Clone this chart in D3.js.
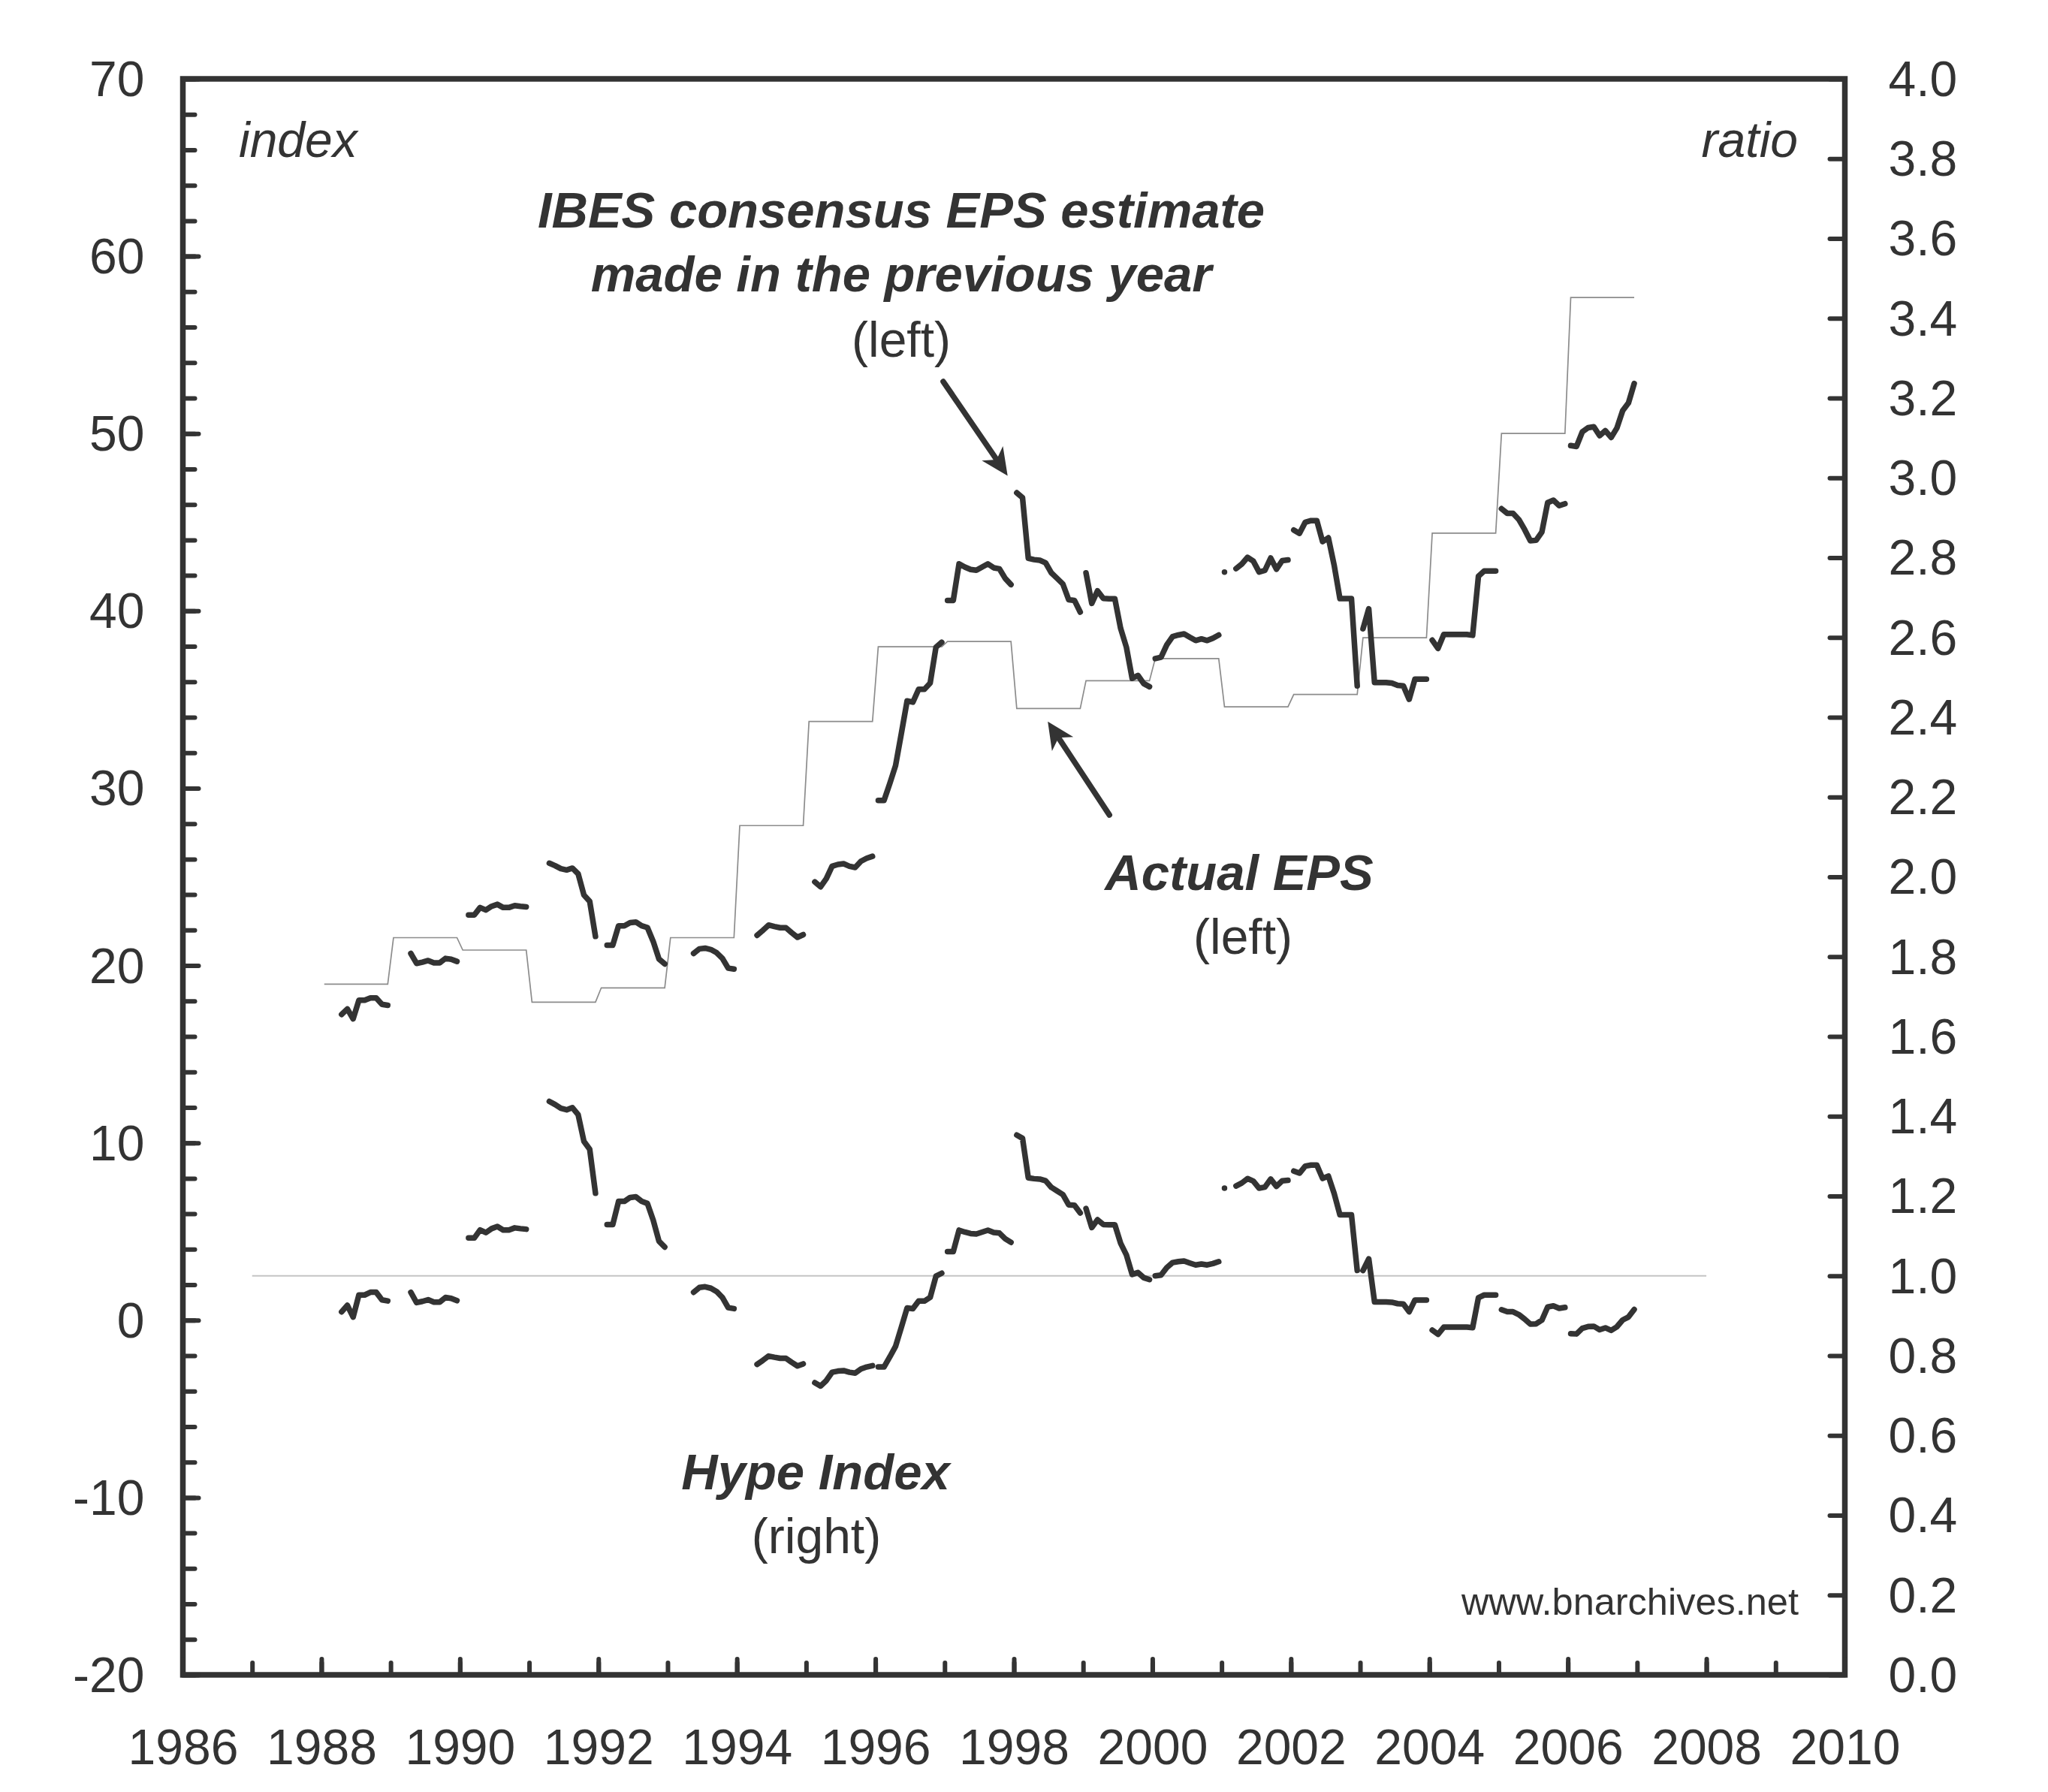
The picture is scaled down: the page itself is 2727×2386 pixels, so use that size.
<!DOCTYPE html>
<html><head><meta charset="utf-8">
<script src="https://cdn.jsdelivr.net/npm/d3@7"></script>
<style>
html,body{margin:0;padding:0;background:#fff;}
text{font-family:"Liberation Sans",Arial,Helvetica,sans-serif;fill:#333;}
</style>
</head><body>
<svg id="chart" width="2727" height="2386"></svg>
<script>
// ---------------- DATA ----------------
const years = [1988,1989,1990,1991,1992,1993,1994,1995,1996,1997,1998,1999,2000,2001,2002,2003,2004,2005,2006];

// Actual EPS (left axis), one value per year, repeated monthly in the chart
const actualEPS = [18.95,21.57,20.87,17.93,18.74,21.57,27.89,33.76,37.98,38.27,34.49,36.06,37.31,34.59,35.29,38.48,44.38,50.00,57.67];

// IBES consensus EPS estimate made in the previous year (left axis), monthly Jan..Dec
const consensusEstimate = [
  [null,null,null,17.24,17.55,16.99,18.04,18.04,18.17,18.17,17.81,17.76], // 1988
  [null,null,null,20.68,20.12,20.19,20.28,20.15,20.15,20.40,20.35,20.23], // 1989
  [null,22.85,22.85,23.27,23.13,23.34,23.45,23.27,23.27,23.38,23.34,23.31], // 1990
  [null,null,null,25.77,25.63,25.46,25.39,25.49,25.17,23.97,23.62,21.64], // 1991
  [null,21.15,21.15,22.24,22.24,22.42,22.45,22.24,22.14,21.36,20.37,20.09], // 1992
  [null,null,null,null,20.68,20.94,20.98,20.90,20.72,20.40,19.85,19.80], // 1993
  [null,null,null,21.70,21.98,22.28,22.20,22.13,22.13,21.85,21.59,21.74], // 1994
  [null,24.72,24.44,24.90,25.60,25.70,25.74,25.60,25.53,25.88,26.05,26.16], // 1995
  [29.31,29.31,30.26,31.27,33.08,34.92,34.85,35.58,35.58,35.93,37.95,38.23], // 1996
  [40.59,40.59,42.65,42.47,42.33,42.29,42.47,42.65,42.43,42.37,41.83,41.48], // 1997
  [46.66,46.38,42.96,42.89,42.85,42.71,42.14,41.83,41.51,40.63,40.59,39.93], // 1998
  [42.14,40.42,41.13,40.70,40.68,40.68,39.01,37.95,36.19,36.36,35.90,35.72], // 1999
  [37.31,37.38,38.08,38.55,38.64,38.70,38.51,38.33,38.42,38.33,38.46,38.64], // 2000
  [42.19,null,42.38,42.64,43.02,42.80,42.19,42.28,42.98,42.35,42.83,42.87], // 2001
  [44.56,44.37,45.00,45.09,45.09,43.90,44.12,42.58,40.69,40.69,40.69,35.77], // 2002
  [38.99,40.12,35.96,35.96,35.96,35.93,35.80,35.77,35.01,36.15,36.15,36.15], // 2003
  [38.35,37.88,38.67,38.67,38.67,38.67,38.67,38.62,41.95,42.25,42.25,42.25], // 2004
  [45.76,45.50,45.50,45.15,44.59,43.95,43.98,44.45,46.10,46.24,45.93,46.04], // 2005
  [49.32,49.27,50.09,50.33,50.38,49.88,50.16,49.78,50.31,51.29,51.72,52.82]  // 2006
];

// Hype Index parity reference (right axis)
const hypeParity = {from: 1987, to: 2008, value: 1.0};

// Tick labels
const xTickLabels = [1986,1988,1990,1992,1994,1996,1998,2000,2002,2004,2006,2008,2010];
const leftTickLabels = [-20,-10,0,10,20,30,40,50,60,70];
const rightTickLabels = [0.0,0.2,0.4,0.6,0.8,1.0,1.2,1.4,1.6,1.8,2.0,2.2,2.4,2.6,2.8,3.0,3.2,3.4,3.6,3.8,4.0];

// ---------------- CHART ----------------
const svg = d3.select("#chart");
const INK = "#333333";
const L = 243.5, R = 2456.5, T = 105, B = 2230;

const x = d3.scaleLinear().domain([1986, 2010]).range([L, R]);
const yL = d3.scaleLinear().domain([-20, 70]).range([B, T]);
const yR = d3.scaleLinear().domain([0, 4]).range([B, T]);

svg.append("rect").attr("width", 2727).attr("height", 2386).attr("fill", "#fff");

// Hype parity line
svg.append("line")
  .attr("x1", x(hypeParity.from)).attr("x2", x(hypeParity.to))
  .attr("y1", yR(hypeParity.value)).attr("y2", yR(hypeParity.value))
  .attr("stroke", "#c4c4c4").attr("stroke-width", 2);

// Actual EPS thin step line
const actualPts = [];
years.forEach((yr, i) => {
  actualPts.push([yr + 0.5/12, actualEPS[i]]);
  actualPts.push([yr + 11.5/12, actualEPS[i]]);
});
svg.append("path")
  .attr("d", d3.line().x(d => x(d[0])).y(d => yL(d[1]))(actualPts))
  .attr("fill", "none").attr("stroke", "#8c8c8c").attr("stroke-width", 1.7);

// Estimate & hype thick segments
const estLine = d3.line().defined(d => d.v != null).x(d => x(d.t)).y(d => yL(d.v));
const hypeLine = d3.line().defined(d => d.v != null).x(d => x(d.t)).y(d => yR(d.v));
years.forEach((yr, i) => {
  const est = consensusEstimate[i].map((v, m) => ({t: yr + (m + 0.5)/12, v: v}));
  const hype = consensusEstimate[i].map((v, m) => ({t: yr + (m + 0.5)/12, v: v == null ? null : v / actualEPS[i]}));
  [[est, estLine], [hype, hypeLine]].forEach(([pts, gen]) => {
    svg.append("path").attr("d", gen(pts))
      .attr("fill", "none").attr("stroke", INK).attr("stroke-width", 7.5)
      .attr("stroke-linecap", "round").attr("stroke-linejoin", "round");
  });
});

// Frame
svg.append("rect").attr("x", L).attr("y", T).attr("width", R - L).attr("height", B - T)
  .attr("fill", "none").attr("stroke", INK).attr("stroke-width", 7.5);

function styleAxis(g) {
  g.select(".domain").remove();
  g.selectAll(".tick line").attr("stroke", INK).attr("stroke-width", 6).attr("stroke-linecap", "round");
  g.selectAll(".tick text").attr("font-size", 66).attr("fill", INK)
    .style("font-family", '"Liberation Sans",Arial,Helvetica,sans-serif');
}

// Left axis
svg.append("g").attr("transform", `translate(${L},0)`)
  .call(d3.axisLeft(yL).tickValues(d3.range(-20, 71, 2)).tickSize(-16).tickFormat(""))
  .call(styleAxis);
svg.append("g").attr("transform", `translate(${L},0)`)
  .call(d3.axisLeft(yL).tickValues(leftTickLabels).tickSize(-21).tickPadding(51).tickFormat(d => String(d)))
  .call(styleAxis)
  .call(g => g.selectAll(".tick text").attr("dy", "0.34em"));

// Right axis
svg.append("g").attr("transform", `translate(${R},0)`)
  .call(d3.axisRight(yR).tickValues(rightTickLabels).tickSize(-20).tickPadding(58).tickFormat(d => d.toFixed(1)))
  .call(styleAxis)
  .call(g => g.selectAll(".tick text").attr("dy", "0.34em"));

// Bottom axis
svg.append("g").attr("transform", `translate(0,${B})`)
  .call(d3.axisBottom(x).tickValues(d3.range(1986, 2011, 1)).tickSize(-16).tickFormat(""))
  .call(styleAxis);
svg.append("g").attr("transform", `translate(0,${B})`)
  .call(d3.axisBottom(x).tickValues(xTickLabels).tickSize(-21).tickPadding(72).tickFormat(d => String(d)))
  .call(styleAxis);

// Text annotations
function label(txt, xx, yy, opts = {}) {
  svg.append("text").attr("x", xx).attr("y", yy)
    .attr("font-size", opts.size || 66)
    .attr("font-style", opts.italic ? "italic" : "normal")
    .attr("font-weight", opts.bold ? "bold" : "normal")
    .attr("text-anchor", opts.anchor || "middle")
    .text(txt);
}
label("index", 318, 209, {italic: true, anchor: "start"});
label("ratio", 2394, 209, {italic: true, anchor: "end"});
label("IBES consensus EPS estimate", 1200, 303, {italic: true, bold: true, size: 67});
label("made in the previous year", 1200, 388, {italic: true, bold: true, size: 67});
label("(left)", 1200, 475);
label("Actual EPS", 1650, 1185, {italic: true, bold: true, size: 67});
label("(left)", 1655, 1270);
label("Hype Index", 1086, 1983, {italic: true, bold: true, size: 67});
label("(right)", 1087, 2068);
label("www.bnarchives.net", 2395, 2150, {size: 50.5, anchor: "end"});

// Arrows (defined in data coordinates: [year, left-axis value])
const arrows = [
  {tail: [1996.98, 52.93], tip: [1997.91, 47.62]},
  {tail: [1999.38, 28.49], tip: [1998.49, 33.76]}
];
arrows.forEach(a => {
  const x0 = x(a.tail[0]), y0 = yL(a.tail[1]);
  const x1 = x(a.tip[0]), y1 = yL(a.tip[1]);
  const dx = x1 - x0, dy = y1 - y0, len = Math.hypot(dx, dy);
  const ux = dx / len, uy = dy / len, px = -uy, py = ux;
  const hl = 36, hw = 17, notch = 26;
  svg.append("line")
    .attr("x1", x0).attr("y1", y0)
    .attr("x2", x1 - ux * notch).attr("y2", y1 - uy * notch)
    .attr("stroke", INK).attr("stroke-width", 7.5).attr("stroke-linecap", "round");
  const pts = [
    [x1, y1],
    [x1 - ux * hl + px * hw, y1 - uy * hl + py * hw],
    [x1 - ux * notch, y1 - uy * notch],
    [x1 - ux * hl - px * hw, y1 - uy * hl - py * hw]
  ];
  svg.append("path").attr("d", "M" + pts.map(p => p.join(",")).join("L") + "Z").attr("fill", INK);
});
</script>
</body></html>
